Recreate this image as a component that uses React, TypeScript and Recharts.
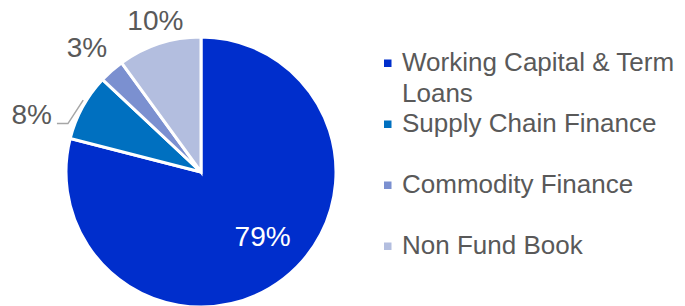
import React from "react";
import { PieChart, Pie, Cell, Legend } from "recharts";

const categories = [
  "Working Capital & Term Loans",
  "Supply Chain Finance",
  "Commodity Finance",
  "Non Fund Book",
];
const legendLines = [
  ["Working Capital & Term", "Loans"],
  ["Supply Chain Finance"],
  ["Commodity Finance"],
  ["Non Fund Book"],
];
const values = [79, 8, 3, 10];
const valueLabels = ["79%", "8%", "3%", "10%"];
const colors = ["#002ECC", "#0070C0", "#7B90D0", "#B3BEDF"];

const data = categories.map((name, i) => ({ name, value: values[i] }));

// label layout: radius and angle offset from slice mid angle
const labelLayout = [
  { r: 89, dA: 6, fill: "#FFFFFF" },
  { r: 179, dA: 9.8, fill: "#595959" },
  { r: 169, dA: 1, fill: "#595959" },
  { r: 158.7, dA: -1.3, fill: "#595959" },
];

const RAD = Math.PI / 180;
const polar = (cx: number, cy: number, r: number, a: number) => ({
  x: cx + r * Math.cos(-a * RAD),
  y: cy + r * Math.sin(-a * RAD),
});

const FONT = "'Liberation Sans', Arial, sans-serif";

const renderLabel = (props: any) => {
  const { cx, cy, midAngle, index } = props;
  const L = labelLayout[index];
  const p = polar(cx, cy, L.r, midAngle + L.dA);
  const els: any[] = [];
  if (index === 1) {
    const a = polar(cx, cy, 138, 148.6);
    const b = polar(cx, cy, 141.6, 160);
    els.push(
      <polyline
        key="ll"
        points={`${a.x},${a.y} ${b.x},${b.y} ${b.x - 11},${b.y}`}
        fill="none"
        stroke="#A6A6A6"
        strokeWidth={1.5}
      />
    );
  }
  els.push(
    <text
      key="t"
      x={p.x}
      y={p.y + 10}
      textAnchor="middle"
      fill={L.fill}
      fontSize={28}
      fontFamily={FONT}
    >
      {valueLabels[index]}
    </text>
  );
  return <g>{els}</g>;
};

const renderLegend = () => (
  <svg width={300} height={306} style={{ display: "block" }}>
    {legendLines.map((lines, i) => {
      const base = 71 + i * 61;
      return (
        <g key={i}>
          <rect x={4} y={base - 11.5} width={7.5} height={7.5} fill={colors[i]} />
          {lines.map((ln, j) => (
            <text
              key={j}
              x={22}
              y={base + j * 31}
              fontSize={26}
              fontFamily={FONT}
              fill="#595959"
            >
              {ln}
            </text>
          ))}
        </g>
      );
    })}
  </svg>
);

export default function App() {
  return (
    <div style={{ position: "absolute", left: 0, top: 0, width: 685, height: 306, background: "#fff" }}>
      <PieChart width={685} height={306} margin={{ top: 0, right: 0, bottom: 0, left: 0 }}>
        <Pie
          data={data}
          dataKey="value"
          nameKey="name"
          cx={201}
          cy={172}
          outerRadius={135}
          startAngle={90}
          endAngle={-270}
          stroke="#FFFFFF"
          strokeWidth={3}
          label={renderLabel}
          labelLine={false}
          isAnimationActive={false}
        >
          {data.map((d, i) => (
            <Cell key={d.name} fill={colors[i]} />
          ))}
        </Pie>
        <Legend
          content={renderLegend}
          wrapperStyle={{ position: "absolute", left: 380, top: 0, width: 300, height: 306 }}
        />
      </PieChart>
    </div>
  );
}
